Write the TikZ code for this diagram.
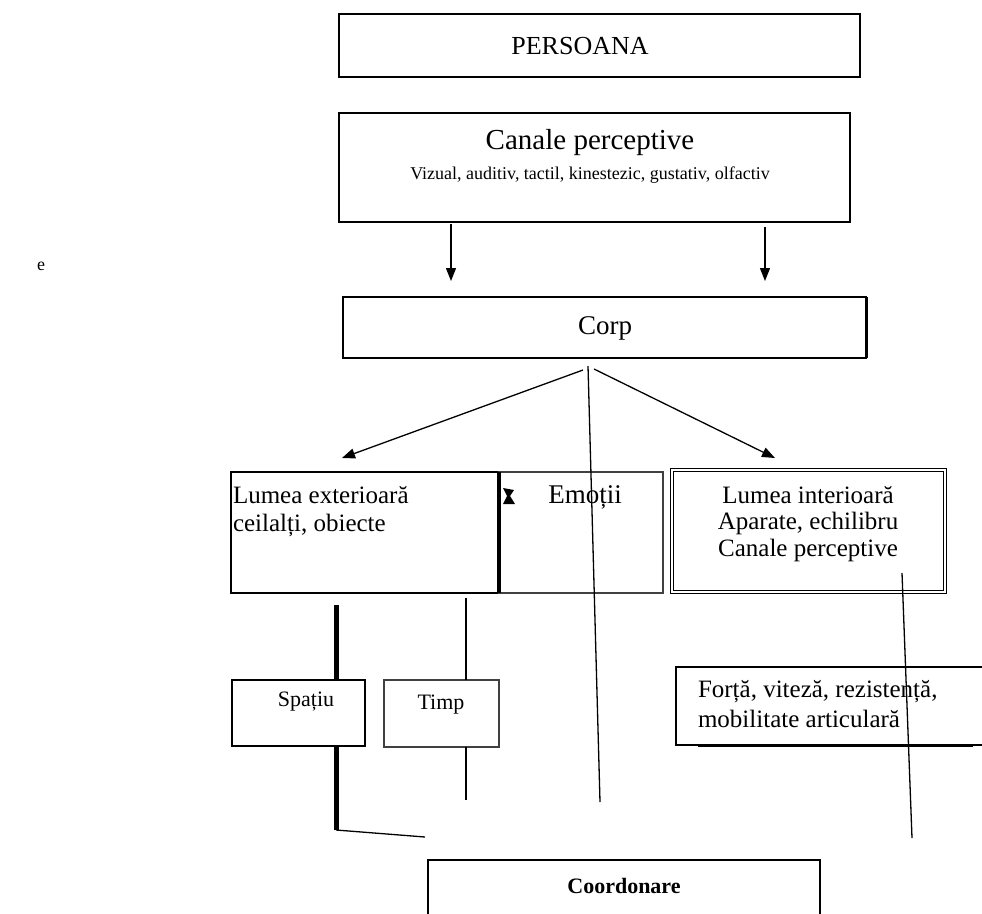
\documentclass[tikz,border=0pt]{standalone}
\usepackage{fontspec}
\setmainfont{Liberation Serif}
\usetikzlibrary{arrows.meta,calc}
\begin{document}
\begin{tikzpicture}[x=1pt,y=-1pt,
  box/.style={draw=black, line width=1.2pt, anchor=north west, inner sep=0pt, outer sep=0pt},
  lbl/.style={inner sep=0pt, outer sep=0pt},
  conn/.style={line width=1.3pt},
  arr/.style={line width=1.3pt, -{Triangle[length=13pt,width=10pt]}},
]
\useasboundingbox (0,0) rectangle (982,913);
\clip (0,0) rectangle (982,913);

% boxes
\node[box, minimum width=521pt, minimum height=63pt] (persoana) at (339,14) {};
\node[box, minimum width=511pt, minimum height=109pt] (canale) at (339,113) {};
\node[box, minimum width=523pt, minimum height=61pt] (corp) at (343,297) {};
\node[box, minimum width=268pt, minimum height=121pt] (ext) at (231,472) {};
\node[box, draw=black!75, minimum width=164pt, minimum height=121pt] (emo) at (499,472) {};
\node[box, double, double distance=1.6pt, line width=1pt, minimum width=273pt, minimum height=122pt] (int) at (672,470) {};
\node[box, minimum width=330pt, minimum height=78pt] (forta) at (676,667) {};
\node[box, minimum width=133pt, minimum height=66pt] (spatiu) at (232,680) {};
\node[box, draw=black!75, minimum width=115pt, minimum height=67pt] (timp) at (384,680) {};
\node[box, minimum width=392pt, minimum height=90pt] (coord) at (428,860) {};

% thick edges
\draw[line width=3pt] (corp.north east) -- (corp.south east);
\draw[line width=4pt] (ext.north east) -- (ext.south east);
\draw[line width=3pt] ($(forta.south west)+(22,0)$) -- ($(forta.south west)+(297,0)$);

% texts
\node[lbl, font=\fontsize{26}{30}\selectfont] (tpersoana) at (580,46) {PERSOANA};
\node[lbl, font=\fontsize{29}{32}\selectfont] (tcanale) at (590,143) {Canale perceptive};
\node[lbl, font=\fontsize{18}{20}\selectfont] (tvizual) at (590,175) {Vizual, auditiv, tactil, kinestezic, gustativ, olfactiv};
\node[lbl, font=\fontsize{27}{30}\selectfont] (tcorp) at (605,328) {Corp};
\node[lbl, anchor=west, align=left, font=\fontsize{25}{28}\selectfont] (text) at (233,512) {Lumea exterioară\\ceilalți, obiecte};
\node[lbl, font=\fontsize{27}{30}\selectfont] (temo) at (585,497) {Emoții};
\node[lbl, align=center, font=\fontsize{25}{26.5}\selectfont] (tint) at (808,524) {Lumea interioară\\Aparate, echilibru\\Canale perceptive};
\node[lbl, anchor=west, align=left, font=\fontsize{25}{30}\selectfont] (tforta) at (698,704) {Forță, viteză, rezistență,\\mobilitate articulară};
\node[lbl, font=\fontsize{22}{25}\selectfont] (tspatiu) at (306,702) {Spațiu};
\node[lbl, font=\fontsize{22}{25}\selectfont] (ttimp) at (441,705) {Timp};
\node[lbl, font=\bfseries\fontsize{22}{25}\selectfont] (tcoord) at (624,886) {Coordonare};
\node[lbl, font=\fontsize{18}{20}\selectfont] (te) at (41,266) {e};

% small bow-tie mark
\fill (503,488) -- (514,490) -- (510,496) -- (515,504) -- (503,504) -- (507,496) -- cycle;

% connector end points
\coordinate (al1) at (451,224);
\coordinate (al2) at (451,281);
\coordinate (ar1) at (765,227);
\coordinate (ar2) at (765,281);
\coordinate (cl) at (583,370);
\coordinate (cr) at (594,369);
\coordinate (extarr) at (342,458);
\coordinate (intarr) at (775,458);
\coordinate (cmid) at (588,366);
\coordinate (cend) at (600,802);
\coordinate (intl) at (902,573);
\coordinate (intend) at (912,838);
\coordinate (sptop) at (336,605);
\coordinate (spbot) at (336,830);
\coordinate (spend) at (425,837);
\coordinate (titop) at (466,598);
\coordinate (tibot) at (466,800);

% arrows
\draw[arr] (al1) -- (al2);
\draw[arr] (ar1) -- (ar2);
\draw[arr] (cl) -- (extarr);
\draw[arr] (cr) -- (intarr);

% lines
\draw[conn] (cmid) -- (cend);
\draw[conn] (intl) -- (intend);
\draw[line width=5pt] (sptop) -- (sptop |- spatiu.north);
\draw[line width=5pt] (spatiu.south -| spbot) -- (spbot);
\draw[conn] (spbot) -- (spend);
\draw[line width=2.5pt] (titop) -- (titop |- timp.north);
\draw[line width=2.5pt] (timp.south -| tibot) -- (tibot);
\end{tikzpicture}
\end{document}
